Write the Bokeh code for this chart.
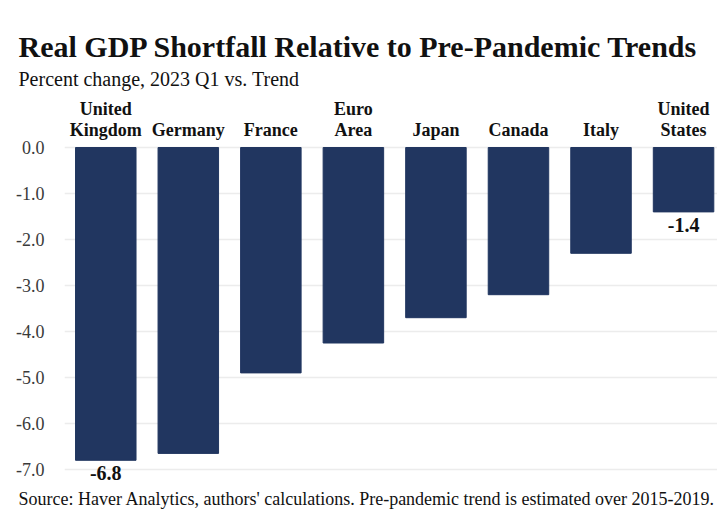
from bokeh.plotting import figure
from bokeh.models import (Range1d, FixedTicker, LinearAxis, ColumnDataSource,
                          LabelSet, Title, NumeralTickFormatter)
from bokeh.core.properties import value
from bokeh.embed import file_html
from bokeh.resources import INLINE

# ---- data ----
countries = ["United\nKingdom", "Germany", "France", "Euro\nArea", "Japan",
             "Canada", "Italy", "United\nStates"]
shortfall = [-6.8, -6.65, -4.9, -4.25, -3.7, -3.2, -2.3, -1.4]
value_labels = ["-6.8", "", "", "", "", "", "", "-1.4"]
y_ticks = [0, -1, -2, -3, -4, -5, -6, -7]

title_text = "Real GDP Shortfall Relative to Pre-Pandemic Trends"
subtitle_text = "Percent change, 2023 Q1 vs. Trend"
source_text = ("Source: Haver Analytics, authors' calculations. "
               "Pre-pandemic trend is estimated over 2015-2019.")

# ---- layout ----
W, H = 717, 516
FRAME_LEFT, FRAME_TOP, FRAME_BOTTOM = 64, 140, 480
PX_PER_UNIT, ZERO_Y, STEP = 46.0, 147.0, 82.54
x_start = -0.5
x_end = x_start + (W - FRAME_LEFT) / STEP
y_end = (ZERO_Y - FRAME_TOP) / PX_PER_UNIT
y_start = -(FRAME_BOTTOM - ZERO_Y) / PX_PER_UNIT

FONT = "Liberation Serif"
NAVY = "#213660"

p = figure(width=W, height=H, x_range=Range1d(x_start, x_end),
           y_range=Range1d(y_start, y_end), output_backend="svg",
           toolbar_location=None, x_axis_location=None,
           min_border_left=FRAME_LEFT, min_border_right=0,
           min_border_top=FRAME_TOP, min_border_bottom=H - FRAME_BOTTOM)
p.outline_line_color = None
p.background_fill_color = "white"
p.border_fill_color = "white"

# y axis
yax = p.yaxis[0]
yax.ticker = FixedTicker(ticks=y_ticks)
yax.formatter = NumeralTickFormatter(format="0.0")
yax.axis_line_color = None
yax.major_tick_line_color = None
yax.minor_tick_line_color = None
yax.major_label_standoff = 14
yax.major_label_text_font = FONT
yax.major_label_text_font_size = "18px"
yax.major_label_text_color = "#3a3a3a"
p.ygrid.grid_line_color = "#ececec"
p.ygrid.grid_line_width = 1.5
p.xgrid.visible = False

# category axis above
x_idx = list(range(len(countries)))
top_axis = LinearAxis(ticker=FixedTicker(ticks=x_idx),
                      major_label_overrides={i: c for i, c in zip(x_idx, countries)})
top_axis.axis_line_color = None
top_axis.major_tick_line_color = None
top_axis.minor_tick_line_color = None
top_axis.major_label_standoff = -5
top_axis.major_label_text_font = FONT
top_axis.major_label_text_font_style = "bold"
top_axis.major_label_text_font_size = "18px"
top_axis.major_label_text_color = "#111111"
top_axis.major_label_text_line_height = 1.05
p.add_layout(top_axis, "above")

src = ColumnDataSource(dict(x=x_idx, v=shortfall, lab=value_labels))
p.vbar(x="x", top="v", bottom=0, width=0.733, source=src,
       fill_color=NAVY, line_color=NAVY)

p.add_layout(LabelSet(x="x", y="v", text="lab", source=src, y_offset=-6,
                      text_align="center", text_baseline="top",
                      text_font=value(FONT), text_font_style="bold",
                      text_font_size="20px", text_color="#111111"))

sub = Title(text=subtitle_text, align="left", offset=18 - FRAME_LEFT,
            text_font=FONT, text_font_size="20px", text_font_style="normal",
            text_color="#111111", standoff=12)
ttl = Title(text=title_text, align="left", offset=18 - FRAME_LEFT,
            text_font=FONT, text_font_size="30px", text_font_style="bold",
            text_color="#111111", standoff=-6)
p.add_layout(sub, "above")
p.add_layout(ttl, "above")

src_note = Title(text=source_text, align="left", offset=18 - FRAME_LEFT,
                 text_font=FONT, text_font_size="18px", text_font_style="normal",
                 text_color="#111111", standoff=12)
p.add_layout(src_note, "below")

open("out.html", "w").write(file_html(p, INLINE))
